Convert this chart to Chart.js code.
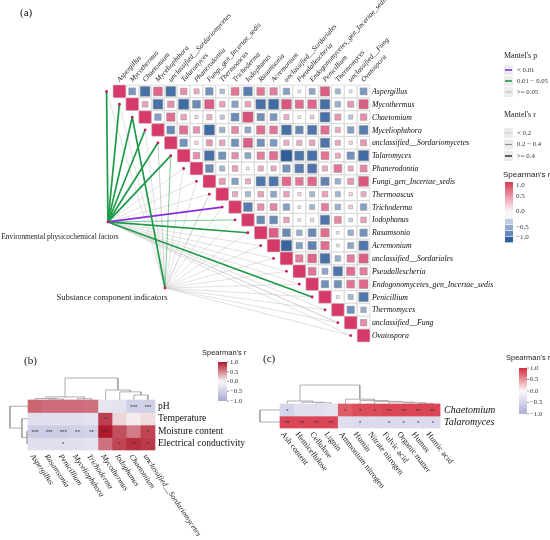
<!DOCTYPE html>
<html><head><meta charset="utf-8">
<script src="https://cdn.jsdelivr.net/npm/chart.js@4.4.1/dist/chart.umd.min.js"></script>
<style>html,body{margin:0;padding:0;background:#fff;}#wrap{position:relative;width:550px;height:540px;}canvas{display:block;}</style>
</head><body><div id="wrap"><canvas id="c" width="550" height="540"></canvas></div>
<script>
// ---------------- DATA ----------------
const taxa = ['Aspergillus','Mycothermus','Chaetomium','Myceliophthora','unclassified__Sordariomycetes','Talaromyces','Phanerodontia','Fungi_gen_Incertae_sedis','Thermoascus','Trichoderma','Iodophanus','Rasamsonia','Acremonium','unclassified__Sordariales','Pseudallescheria','Endogonomycetes_gen_Incertae_sedis','Penicillium','Thermomyces','unclassified__Fung','Ovatospora'];
// Spearman's r, upper triangle: each row lists the columns to the right of the diagonal
const rAspergillus = [-0.5,-0.8,0.7,-0.8,0.45,0.3,-0.55,-0.25,0.6,-0.7,0.6,0.55,-0.45,0.05,-0.4,0.75,-0.3,0.05,-0.5];
const rMycothermus = [0.35,-0.8,0.45,-0.85,-0.6,0.75,0.35,-0.45,0.35,-0.8,-0.85,0.8,0.65,0.7,-0.8,-0.35,0.4,0.75];
const rChaetomium = [-0.45,0.65,0.35,0.1,0.3,-0.2,-0.6,0.85,-0.55,-0.5,0.3,0.05,0.15,-0.8,0.4,-0.2,0.45];
const rMyceliophthora = [-0.6,0.65,0.45,-0.85,-0.35,0.5,-0.4,0.65,0.6,-0.8,-0.6,-0.75,0.65,0.3,-0.45,-0.7];
const rUnclSordariomycetes = [-0.55,0.1,0.4,0.35,-0.55,0.75,-0.55,-0.5,0.3,0.3,0.35,-0.75,0.3,0.1,0.4];
const rTalaromyces = [0.45,-0.8,-0.55,0.45,-0.4,0.55,0.65,-0.95,-0.75,-0.8,0.6,0.3,-0.55,-0.85];
const rPhanerodontia = [-0.6,-0.3,0.35,0.05,0.3,0.3,-0.55,-0.7,-0.75,0.3,0.6,0.3,0.5];
const rFungiGen = [0.4,-0.45,0.3,-0.75,-0.75,0.7,0.6,0.7,-0.65,-0.35,0.4,0.8];
const rThermoascus = [0.3,-0.3,0.35,-0.4,0.35,0.1,-0.3,0.35,-0.3,0.1,0.3];
const rTrichoderma = [-0.7,0.45,0.5,-0.45,0.05,-0.3,0.55,-0.35,0.15,-0.45];
const rIodophanus = [-0.6,-0.6,0.35,0.05,0.1,-0.75,0.5,-0.15,0.35];
const rRasamsonia = [0.75,-0.6,-0.35,-0.6,0.65,0.05,-0.35,-0.55];
const rAcremonium = [-0.9,-0.45,-0.65,0.65,0.05,-0.4,-0.75];
const rUnclSordariales = [0.55,0.7,-0.8,-0.35,0.55,0.75];
const rPseudallescheria = [0.6,-0.4,-0.75,0.65,0.55];
const rEndogonomycetes = [-0.55,-0.55,0.6,0.7];
const rPenicillium = [0.05,-0.3,-0.75];
const rThermomyces = [-0.55,-0.35];
const rUnclFung = [0.45];
const upperRows = [rAspergillus,rMycothermus,rChaetomium,rMyceliophthora,rUnclSordariomycetes,rTalaromyces,rPhanerodontia,rFungiGen,rThermoascus,rTrichoderma,rIodophanus,rRasamsonia,rAcremonium,rUnclSordariales,rPseudallescheria,rEndogonomycetes,rPenicillium,rThermomyces,rUnclFung,[]];

// Mantel test classes. p: 0 '< 0.01', 1 '0.01 - 0.05', 2 '>= 0.05';  r: 0 '< 0.2', 1 '0.2 - 0.4', 2 '>= 0.4'
const mantelGroups = ['Environmental physicochemical factors','Substance component indicators'];
const envPClass = [1,1,1,1,1,1,2,2,2,0,1,1,2,2,2,2,1,2,2,2];
const envRClass = [2,2,2,2,2,2,0,0,0,2,1,2,0,0,0,0,2,0,1,0];
const subPClass = [2,2,1,2,2,1,2,2,2,2,2,2,2,2,2,2,2,2,2,2];
const subRClass = [0,0,2,0,1,1,0,0,1,0,0,0,0,0,0,0,0,0,0,0];
const pLabels = ['< 0.01','0.01 \u2212 0.05','>= 0.05'];
const rLabels = ['< 0.2','0.2 \u2212 0.4','>= 0.4'];

// Panel (b)
const colsB = ['Aspergillus','Rasamsonia','Penicillium','Myceliophthora','Trichoderma','Mycothermus','Iodophanus','Chaetomium','unclassified__Sordariomycetes'];
const rowsB = ['pH','Temperature','Moisture content','Electrical conductivity'];
const rPH = [0.65,0.62,0.62,0.62,0.6,-0.22,-0.25,-0.5,-0.5];
const rTemperature = [-0.3,-0.3,-0.3,-0.3,-0.25,0.82,0.15,0.05,0.12];
const rMoisture = [-0.55,-0.55,-0.55,-0.5,-0.45,1.0,0.75,0.55,0.8];
const rEC = [-0.3,-0.3,-0.3,-0.3,-0.25,0.6,0.8,0.9,0.85];
const sigPH = ['','','','','','','','***','***'];
const sigTemperature = ['','','','','','*','','',''];
const sigMoisture = ['***','***','***','**','**','***','','','*'];
const sigEC = ['','','*','','','','*','**','*'];
// dendrogram merges (heights in cell units outside the heatmap)
const treeBCols = {h:-2.26,c:[{h:-0.75,c:[{h:-0.62,c:[0,{h:-0.58,c:[1,2]}]},{h:-0.6,c:[3,4]}]},{h:-1.3,c:[5,{h:-1.15,c:[6,{h:-0.9,c:[7,8]}]}]}]};
const treeBRows = {h:-1.78,c:[0,{h:-0.93,c:[1,{h:-0.57,c:[2,3]}]}]};

// Panel (c)
const colsC = ['Ash content','Hemicellulose','Cellulose','Lignin','Ammonium nitrogen','Humin','Nitrate nitrogen','Fulvic acid','Organic matter','Humus','Humic acid'];
const rowsC = ['Chaetomium','Talaromyces'];
const rChaetomiumC = [-0.5,-0.35,-0.35,-0.3,0.78,0.85,0.86,0.88,0.88,0.88,0.88];
const rTalaromycesC = [0.88,0.88,0.88,0.88,-0.35,-0.4,-0.4,-0.4,-0.4,-0.4,-0.4];
const sigChaetomiumC = ['*','','','','*','*','*','**','**','**','**'];
const sigTalaromycesC = ['**','**','**','**','','*','','*','*','*','*'];
const treeCCols = {h:-2.08,c:[{h:-0.75,c:[0,{h:-0.65,c:[1,{h:-0.6,c:[2,3]}]}]},{h:-0.9,c:[4,{h:-0.78,c:[5,{h:-0.72,c:[6,{h:-0.66,c:[7,{h:-0.6,c:[8,{h:-0.55,c:[9,10]}]}]}]}]}]}]};
const treeCRows = {h:-1.88,c:[0,1]};

// ---------------- LAYOUT / STYLE ----------------
const W = 550, H = 540;
const envNode = {x:-0.89, y:10.16};   // node positions in panel-(a) cell units
const subNode = {x:3.55, y:15.3};
const SERIF = '"Liberation Serif","Times New Roman",serif';
const SANS = '"Liberation Sans Narrow","Liberation Sans",Arial,sans-serif';

function mix(a,b,t){t=Math.max(0,Math.min(1,t));return 'rgb('+a.map((v,i)=>Math.round(v+(b[i]-v)*t)).join(',')+')';}
function colA(v){return v>=0?mix([255,255,255],[214,58,104],Math.pow(v,0.7)):mix([255,255,255],[40,88,152],Math.pow(-v,0.7));}
function colB(v){return v>=0?mix([247,247,247],[178,24,43],v):mix([247,247,247],[168,168,214],-v);}
function colC(v){return v>=0?mix([250,250,250],[214,46,62],v):mix([250,250,250],[172,172,218],-v);}
function sideA(v){return 2.4+9.2*Math.abs(v);}

function linScale(axis,a,b,len,reverse){return {type:'linear',axis,display:false,offset:false,grace:0,beginAtZero:false,min:-a/b,max:(len-a)/b,reverse:!!reverse,ticks:{includeBounds:false}};}

// ---------------- DATASETS ----------------
const datasets = [];
const cellPts = [], valPts = [];
for(let i=0;i<taxa.length;i++){
  for(let j=i;j<taxa.length;j++){
    cellPts.push({x:j,y:i});
    valPts.push({x:j,y:i,v: j===i?1:upperRows[i][j-i-1]});
  }
}
datasets.push({type:'scatter',xAxisID:'xa',yAxisID:'ya',order:3,data:cellPts,pointStyle:'rect',pointRadius:12.6/Math.SQRT2,
  pointBackgroundColor:'#ffffff',pointBorderColor:'#d6d6d6',pointBorderWidth:0.8,clip:false});
datasets.push({type:'scatter',xAxisID:'xa',yAxisID:'ya',order:2,data:valPts,pointStyle:'rect',
  pointRadius:c=>sideA(c.raw.v)/Math.SQRT2,pointBackgroundColor:c=>colA(c.raw.v),
  pointBorderColor:c=>c.raw.x===c.raw.y?colA(1):'rgba(150,150,150,0.75)',pointBorderWidth:0.7,clip:false});
const pColors = ['#8a2be2','#1c9a48','#cdcdcd'];
const rWidths = [0.6,1.0,1.7];
function mantelLine(node,i,p,r){
  const grey = p===2;
  let col = pColors[p];
  if(p===1 && r<2) col = 'rgba(28,154,72,0.55)';
  datasets.push({type:'scatter',xAxisID:'xa',yAxisID:'ya',order:grey?6:5,showLine:true,pointRadius:0,
    borderColor:col,borderWidth:rWidths[r],data:[{x:node.x,y:node.y},{x:i-1,y:i}],clip:false});
}
taxa.forEach((t,i)=>{mantelLine(envNode,i,envPClass[i],envRClass[i]);mantelLine(subNode,i,subPClass[i],subRClass[i]);});
const dotPts = taxa.map((t,i)=>({x:i-1,y:i})).concat([envNode,subNode]);
datasets.push({type:'scatter',xAxisID:'xa',yAxisID:'ya',order:1,data:dotPts,pointRadius:1.4,pointBackgroundColor:'#c8185a',pointBorderWidth:0,clip:false});

function heatRows(rows,colorFn,xid,yid){
  rows.forEach((vals,ri)=>{
    datasets.push({type:'bar',xAxisID:xid,yAxisID:yid,order:3,grouped:false,barPercentage:1,categoryPercentage:1,borderWidth:0,
      data:vals.map((v,ci)=>({x:ci,y:[ri-0.5,ri+0.5],v})),backgroundColor:c=>colorFn(c.raw.v),clip:false});
  });
}
heatRows([rPH,rTemperature,rMoisture,rEC],colB,'xb','yb');
heatRows([rChaetomiumC,rTalaromycesC],colC,'xc','yc');

function dendro(node,edge,out){
  if(typeof node==='number') return {pos:node,h:edge};
  const a=dendro(node.c[0],edge,out), b=dendro(node.c[1],edge,out);
  out.push([[a.pos,a.h],[a.pos,node.h],[b.pos,node.h],[b.pos,b.h]]);
  return {pos:(a.pos+b.pos)/2,h:node.h};
}
function addDendro(tree,horizontalLeaves,xid,yid){
  const links=[]; dendro(tree,-0.5,links);
  links.forEach(l=>{
    datasets.push({type:'scatter',xAxisID:xid,yAxisID:yid,order:4,showLine:true,pointRadius:0,borderColor:'#9a9a9a',borderWidth:0.8,clip:false,
      data:l.map(p=>horizontalLeaves?{x:p[0],y:p[1]}:{x:p[1],y:p[0]})});
  });
}
addDendro(treeBCols,true,'xb','yb');
addDendro(treeBRows,false,'xb','yb');
addDendro(treeCCols,true,'xc','yc');
addDendro(treeCRows,false,'xc','yc');

// ---------------- TEXT / LEGENDS ----------------
function txt(c,s,x,y,font,color,align,base,rot){
  c.save();c.font=font;c.fillStyle=color;c.textAlign=align||'left';c.textBaseline=base||'middle';
  c.translate(x,y);if(rot)c.rotate(rot*Math.PI/180);c.fillText(s,0,0);c.restore();
}
function hline(c,x1,x2,y,col,w){c.save();c.strokeStyle=col;c.lineWidth=w;c.beginPath();c.moveTo(x1,y);c.lineTo(x2,y);c.stroke();c.restore();}
function colorbar(c,x,y0,y1,w,colorFn,labels,lx,font){
  const g=c.createLinearGradient(0,y0,0,y1);
  for(let k=0;k<=20;k++){g.addColorStop(k/20,colorFn(1-2*k/20));}
  c.fillStyle=g;c.fillRect(x,y0,w,y1-y0);
  labels.forEach(([v,s])=>{const y=y0+(1-v)/2*(y1-y0);hline(c,x+w,x+w+2,y,'#555',0.6);txt(c,s,lx,y,font,'#333','left','middle');});
}
const decor = {id:'decor',afterDatasetsDraw(chart){
  const c=chart.ctx,s=chart.scales;
  txt(c,'(a)',20,13,`11px ${SERIF}`,'#111');
  txt(c,'(b)',24,361,`11px ${SERIF}`,'#111');
  txt(c,'(c)',263,359,`11px ${SERIF}`,'#111');
  taxa.forEach((t,j)=>txt(c,t,s.xa.getPixelForValue(j)-1,s.ya.getPixelForValue(-0.5)-4,`italic 7.2px ${SERIF}`,'#1a1a1a','left','middle',-48));
  taxa.forEach((t,i)=>txt(c,t,s.xa.getPixelForValue(19.5)+2,s.ya.getPixelForValue(i)+0.5,`italic 7.8px ${SERIF}`,'#0d0d0d','left','middle'));
  const ex=s.xa.getPixelForValue(envNode.x),ey=s.ya.getPixelForValue(envNode.y);
  const sx=s.xa.getPixelForValue(subNode.x),sy=s.ya.getPixelForValue(subNode.y);
  txt(c,mantelGroups[0],ex-48,ey+15,`7.4px ${SERIF}`,'#222','center');
  txt(c,mantelGroups[1],sx-53,sy+10,`8.6px ${SERIF}`,'#222','center');
  txt(c,"Mantel's p",504,56,`8px ${SERIF}`,'#222');
  pLabels.forEach((l,k)=>{const y=70+k*11;c.fillStyle='#ececec';c.fillRect(504,y-5,9,10);hline(c,505,512,y,pColors[k],1.6);txt(c,l,517,y,`6.8px ${SERIF}`,'#333');});
  txt(c,"Mantel's r",504,115,`8px ${SERIF}`,'#222');
  const rc=['#b5b5b5','#8c8c8c','#4d4d4d'];
  rLabels.forEach((l,k)=>{const y=133+k*11.5;c.fillStyle='#ececec';c.fillRect(504,y-5,9,10);hline(c,505,512,y,rc[k],[0.6,1.1,1.8][k]);txt(c,l,517,y,`6.8px ${SERIF}`,'#333');});
  txt(c,"Spearman's r",503,175,`8px ${SANS}`,'#222');
  const g=c.createLinearGradient(0,182,0,211);g.addColorStop(0,'#d63a52');g.addColorStop(0.5,'#ec9aab');g.addColorStop(1,'#fbf3f5');
  c.fillStyle=g;c.fillRect(505,182,8,29);
  c.fillStyle='#f6f6f9';c.fillRect(505,211,8,8);
  [['#bccae2',219],['#8fa8cf',225],['#6587bb',231],['#2f5f9c',237]].forEach(([col,y])=>{c.fillStyle=col;c.fillRect(505,y,8,5.4);});
  [['1.0',185],['0.5',196],['0.0',211],['\u22120.5',227],['\u22121.0',237]].forEach(([l,y])=>txt(c,l,516,y,`7px ${SERIF}`,'#333'));
  rowsB.forEach((r,i)=>txt(c,r,s.xb.getPixelForValue(8.5)+3,s.yb.getPixelForValue(i),`9.6px ${SERIF}`,'#111'));
  colsB.forEach((t,j)=>txt(c,t,s.xb.getPixelForValue(j)-3,s.yb.getPixelForValue(3.5)+5,`italic 7.8px ${SERIF}`,'#222','left','middle',56));
  [sigPH,sigTemperature,sigMoisture,sigEC].forEach((row,i)=>row.forEach((st,j)=>{if(st)txt(c,st,s.xb.getPixelForValue(j),s.yb.getPixelForValue(i)+1,`6px ${SANS}`,'#333','center');}));
  txt(c,"Spearman's r",202,353,`7.5px ${SANS}`,'#222');
  colorbar(c,218,362,401,9,colB,[[1,'1.0'],[0.5,'0.5'],[0,'0.0'],[-0.5,'\u22120.5'],[-1,'\u22121.0']],230,`6.8px ${SERIF}`);
  rowsC.forEach((r,i)=>txt(c,r,s.xc.getPixelForValue(10.5)+4,s.yc.getPixelForValue(i),`italic 10px ${SERIF}`,'#111'));
  colsC.forEach((t,j)=>txt(c,t,s.xc.getPixelForValue(j)-5,s.yc.getPixelForValue(1.5)+5,`8.2px ${SERIF}`,'#222','left','middle',52));
  [sigChaetomiumC,sigTalaromycesC].forEach((row,i)=>row.forEach((st,j)=>{if(st)txt(c,st,s.xc.getPixelForValue(j),s.yc.getPixelForValue(i)+1,`6px ${SANS}`,'#333','center');}));
  txt(c,"Spearman's r",506,358,`7.5px ${SANS}`,'#222');
  colorbar(c,519,368,414,8,colC,[[1,'1.0'],[0.5,'0.5'],[0,'0.0'],[-0.5,'\u22120.5'],[-1,'\u22121.0']],530,`6.8px ${SERIF}`);
}};

new Chart(document.getElementById('c'),{
  type:'scatter',
  data:{datasets},
  plugins:[decor],
  options:{
    responsive:false,animation:false,events:[],
    layout:{padding:0,autoPadding:false},
    plugins:{legend:{display:false},tooltip:{enabled:false},title:{display:false}},
    scales:{
      x:{display:false},y:{display:false},
      xa:linScale('x',119.4,12.85,W,false), ya:linScale('y',91.4,12.85,H,true),
      xb:linScale('x',35.06,14.11,W,false), yb:linScale('y',406.25,12.5,H,true),
      xc:linScale('x',287.3,14.55,W,false), yc:linScale('y',410,12,H,true)
    }
  }
});
</script></body></html>
